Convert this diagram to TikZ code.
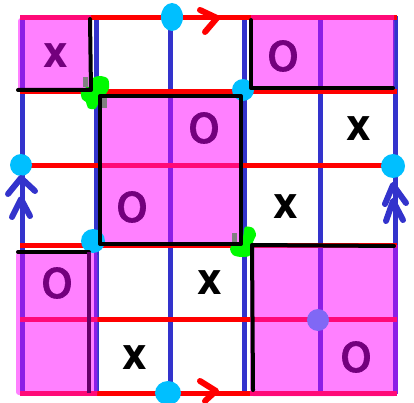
\documentclass[tikz,border=0pt]{standalone}
\usepackage{fontspec}
\newfontfamily\markfont{DejaVu Sans}
\newfontfamily\omarkfont[FakeBold=1.2]{DejaVu Sans}
\definecolor{gridblue}{RGB}{51,51,204}
\definecolor{gridred}{RGB}{255,0,0}
\definecolor{pinkfill}{RGB}{255,128,255}
\definecolor{inpurple}{RGB}{140,30,230}
\definecolor{inred}{RGB}{255,10,120}
\definecolor{dotcyan}{RGB}{0,191,255}
\definecolor{markpurple}{RGB}{115,0,125}
\definecolor{edgepurple}{RGB}{100,0,105}
\definecolor{dotpurple}{RGB}{128,104,245}
\definecolor{greenblob}{RGB}{0,250,0}
\tikzset{
  vline/.style={gridblue, line width=5pt},
  hline/.style={gridred, line width=5pt},
  vinline/.style={inpurple, line width=5pt},
  hinline/.style={inred, line width=5pt},
  pinkarea/.style={fill=pinkfill, rounded corners=3pt},
  outline/.style={black, line width=4pt, line cap=round, line join=round},
  chev/.style={line width=6pt, line cap=round, line join=round},
  xmark/.style={font=\markfont\bfseries\fontsize{38}{38}\selectfont, inner sep=0pt, yscale=1.15},
  omark/.style={font=\omarkfont\fontsize{54}{54}\selectfont, inner sep=0pt},
  cdot/.style={fill=dotcyan, draw=none},
  graysq/.style={fill=gray, draw=none}
}
\begin{document}
\begin{tikzpicture}[x=1pt,y=-1pt]
\useasboundingbox[fill=white] (0,0) rectangle (414,403);
% grid
\foreach \x in {22,96,170,244,320,395} \draw[vline] (\x,16) -- (\x,394);
\foreach \y in {18,92,166,245,319,393} \draw[hline] (20,\y) -- (397,\y);
% pink regions
\fill[pinkarea] (18,18) rectangle (91,90);
\fill[pinkarea] (251,18) rectangle (394,89);
\fill[pinkarea] (100,96) rectangle (242,244);
\fill[pinkarea] (16,252) rectangle (97,395);
\fill[pinkarea] (250,245) rectangle (397,396);
% lines seen through pink
\begin{scope}
\clip (18,15) rectangle (91,90) (251,15) rectangle (394,89) (100,96) rectangle (242,244)
      (16,252) rectangle (97,397) (250,245) rectangle (399,397);
\foreach \x in {22,96,170,244,320,395} \draw[vinline] (\x,16) -- (\x,394);
\foreach \y in {18,92,166,245,319,393} \draw[hinline] (20,\y) -- (397,\y);
\end{scope}
% corner dots
\fill[cdot] (243,90) circle (11);
\fill[cdot] (93,241) circle (12);
% green blobs
\fill[greenblob] plot[smooth cycle, tension=0.5] coordinates {(93,78) (101,76) (108,79) (109,88) (105,95) (100,98) (98,104) (95,109) (88,108) (86,102) (82,99) (81,91) (87,87) (92,86)};
\fill[greenblob] plot[smooth cycle, tension=0.5] coordinates {(245,227) (253,228) (256,235) (253,242) (254,250) (249,256) (241,257) (233,255) (230,249) (233,244) (240,243) (243,237)};
\fill[graysq] (83,77) rectangle (88,87);
\fill[graysq] (101,98) rectangle (107,108);
\fill[graysq] (232,233) rectangle (237,243);
% outlines
\draw[outline] (90,19) -- (91,90) -- (18,90);
\draw[outline] (251,20) -- (251,88) -- (393,88);
\draw[outline] (100,96) rectangle (241,244);
\draw[outline] (18,252) -- (89,252);
\draw[edgepurple, line width=4pt] (89,252) -- (89,393);
\draw[outline] (394,246) -- (252,245) -- (253,390);
% edge dots
\fill[cdot] (172,17) ellipse [x radius=11, y radius=14];
\fill[cdot] (168,393) ellipse [x radius=13, y radius=12];
\fill[cdot] (21,165) circle (11);
\fill[cdot] (393,166) circle (12);
\fill[dotpurple] (318,320) circle (11);
% arrows
\draw[chev, gridred] (200,10) -- (217,18) -- (205,32);
\draw[chev, gridred] (200,381) -- (216,391) -- (205,401);
\draw[chev, gridblue] (8,194) -- (21,178) -- (35,191);
\draw[chev, gridblue] (12,217) -- (21,199) -- (30,216);
\draw[chev, gridblue] (385,204) -- (393,185) -- (406,203);
\draw[chev, gridblue] (386,221) -- (393,201) -- (403,220);
% marks
\node[xmark, text=markpurple] (x1) at (56,56) {x};
\node[omark, text=markpurple] (o1) at (283,56) {o};
\node[omark, text=markpurple] (o2) at (204,128) {o};
\node[omark, text=markpurple] (o3) at (132,207) {o};
\node[omark, text=markpurple] (o4) at (57,283) {o};
\node[omark, text=markpurple] (o5) at (356,357) {o};
\node[xmark, text=black] (x2) at (359,129) {x};
\node[xmark, text=black] (x3) at (286,207) {x};
\node[xmark, text=black] (x4) at (210,283) {x};
\node[xmark, text=black] (x5) at (135,358) {x};
\end{tikzpicture}
\end{document}
